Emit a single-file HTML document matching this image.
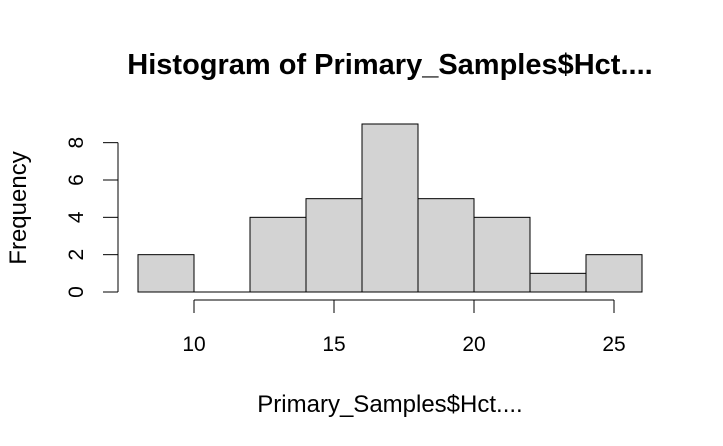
<!DOCTYPE html>
<html><head><meta charset="utf-8"><style>
html,body{margin:0;padding:0;background:#fff;}
svg{display:block;font-family:"Liberation Sans",Arial,sans-serif;}
</style></head><body>
<svg id="chart" width="723" height="446" viewBox="0 0 723 446">
<text x="390" y="74" text-anchor="middle" font-size="29" font-weight="bold">Histogram of Primary_Samples$Hct....</text>
<text x="390" y="412" text-anchor="middle" font-size="24">Primary_Samples$Hct....</text>
<text transform="translate(26,208) rotate(-90)" text-anchor="middle" font-size="24">Frequency</text>
<g id="bars"></g>
<g id="xaxis"></g>
<g id="yaxis"></g>
</svg>
<script>
const binStarts = [8,10,12,14,16,18,20,22,24];
const binWidth = 2;
const counts = [2,0,4,5,9,5,4,1,2];
const xTicks = [10,15,20,25];
const yTicks = [0,2,4,6,8];

const NS = "http://www.w3.org/2000/svg";
function xs(v){ return 138 + (v-8)*28; }
function ys(v){ return 292 - v*18.667; }
function mk(tag, attrs, parent){
  const e = document.createElementNS(NS, tag);
  for (const k in attrs) e.setAttribute(k, attrs[k]);
  parent.appendChild(e); return e;
}
const bars = document.getElementById('bars');
binStarts.forEach((b,i)=>{
  if (counts[i] === 0) {
    const l = mk('line', {x1:xs(b), x2:xs(b+binWidth), y1:ys(0), y2:ys(0), stroke:'#000', 'stroke-width':1}, bars);
    
    
    return;
  }
  const r = mk('rect', {x:xs(b), y:ys(counts[i]), width:xs(b+binWidth)-xs(b), height:ys(0)-ys(counts[i]), fill:'#d3d3d3', stroke:'#000', 'stroke-width':1}, bars);
  
  
});
const xa = document.getElementById('xaxis');


mk('line', {x1:xs(xTicks[0]), x2:xs(xTicks[xTicks.length-1]), y1:300, y2:300, stroke:'#000'}, xa);
xTicks.forEach(t=>{
  mk('line', {x1:xs(t), x2:xs(t), y1:300, y2:313, stroke:'#000'}, xa);
  const tx = mk('text', {x:xs(t), y:351, 'text-anchor':'middle', 'font-size':21}, xa);
  tx.textContent = t;
  
  
});
const ya = document.getElementById('yaxis');


mk('line', {x1:118, x2:118, y1:ys(yTicks[0]), y2:ys(yTicks[yTicks.length-1]), stroke:'#000'}, ya);
yTicks.forEach(t=>{
  mk('line', {x1:103, x2:118, y1:ys(t), y2:ys(t), stroke:'#000'}, ya);
  const tx = mk('text', {transform:'translate(83,'+ys(t)+') rotate(-90)', 'text-anchor':'middle', 'font-size':21}, ya);
  tx.textContent = t;
  
  
});
</script>
</body></html>
